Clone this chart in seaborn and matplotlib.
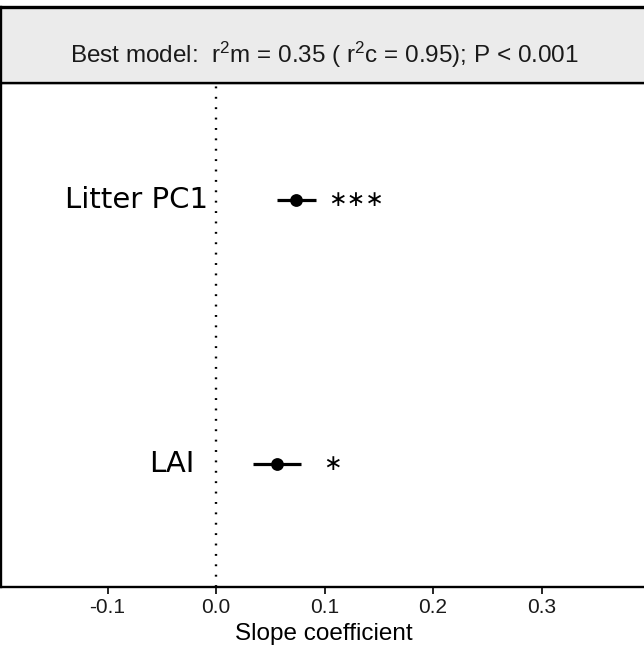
import numpy as np
import pandas as pd
import seaborn as sns
import matplotlib.pyplot as plt

# values
predictors = ["Litter PC1", "LAI"]
estimates = [0.074, 0.056]
ci_low = [0.056, 0.034]
ci_high = [0.092, 0.078]
stars = ["\u2217\u2217\u2217", "\u2217"]
xticks = [-0.1, 0.0, 0.1, 0.2, 0.3]
strip_label = "Best model:  r$^{2}$m = 0.35 ( r$^{2}$c = 0.95); P < 0.001"

df = pd.DataFrame({"predictor": predictors, "estimate": estimates,
                   "lo": ci_low, "hi": ci_high, "stars": stars})
df["y"] = np.arange(len(df))[::-1] + 1

sns.set_theme(style="white")
plt.rcParams["font.family"] = ["Liberation Sans", "DejaVu Sans"]
plt.rcParams["mathtext.fontset"] = "custom"
plt.rcParams["mathtext.rm"] = "Liberation Sans"
plt.rcParams["mathtext.default"] = "regular"

W, H = 644, 654
fig = plt.figure(figsize=(W / 100, H / 100), dpi=100)

# pixel layout (panel runs just past the right edge of the image)
px_per_unit = 1085
x0_px = 216
left_px, right_px, top_px, bot_px, strip_top_px = 1, 647, 83, 587, 7
xmin = (left_px - x0_px) / px_per_unit
xmax = (right_px - x0_px) / px_per_unit
width_px = right_px - left_px

ax = fig.add_axes([left_px / W, 1 - bot_px / H, width_px / W, (bot_px - top_px) / H])
strip = fig.add_axes([left_px / W, 1 - top_px / H, width_px / W, (top_px - strip_top_px) / H])

# main panel
ax.axvline(0, color="black", lw=1.7, ls=(0, (0.8, 3.6)), zorder=1)
ax.hlines(df["y"], df["lo"], df["hi"], color="black", lw=2.3, zorder=2)
sns.scatterplot(data=df, x="estimate", y="y", ax=ax, color="black", s=85,
                edgecolor="black", linewidth=0, zorder=3, legend=False)

label_x = [-0.007, -0.020]
star_x = [0.129, 0.107]
for i, row in df.iterrows():
    ax.text(label_x[i], row["y"], row["predictor"], ha="right", va="center",
            fontsize=21, family="DejaVu Sans", color="black")
    ax.text(star_x[i], row["y"], row["stars"], ha="center", va="center",
            fontsize=16, family="DejaVu Sans", color="black")

ax.set_xlim(xmin, xmax)
ax.set_ylim(0.535, 2.443)
ax.set_yticks([])
ax.set_xticks(xticks)
ax.set_xticklabels([f"{t:.1f}" for t in xticks], fontsize=15, color="#1a1a1a")
ax.tick_params(axis="x", bottom=True, length=5, width=1.2, color="black", pad=3)
ax.set_xlabel("Slope coefficient", fontsize=17.5, color="black", labelpad=4)
ax.set_ylabel("")
for sp in ax.spines.values():
    sp.set_visible(True)
    sp.set_color("black")
    sp.set_linewidth(1.7)

# strip on top
strip.set_facecolor("#ebebeb")
strip.set_xticks([])
strip.set_yticks([])
for sp in strip.spines.values():
    sp.set_visible(True)
    sp.set_color("black")
    sp.set_linewidth(1.7)
strip.spines["top"].set_linewidth(2.4)

# baseline of the label sits at y = 63 px
strip.text(0.5, (top_px - 63) / (top_px - strip_top_px), strip_label,
           transform=strip.transAxes, ha="center", va="baseline",
           fontsize=17.5, color="#1a1a1a")

fig.savefig("out.png", dpi=100)
